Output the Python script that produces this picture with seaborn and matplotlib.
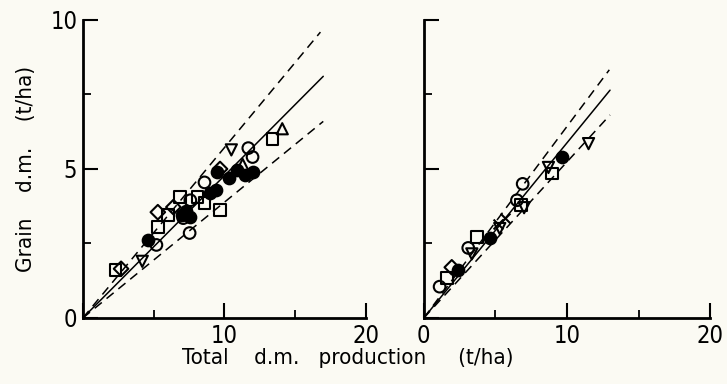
import matplotlib
matplotlib.use("Agg")
import matplotlib.pyplot as plt
import seaborn as sns
import pandas as pd
import numpy as np

# ---- data ----
# left panel
left_marker = ["s", "D", "v", "o_f", "o", "D", "s", "s", "D", "s",
               "o_f", "o_f", "o_f", "o", "o", "o", "s", "s", "o",
               "o_f", "o_f", "s", "o_f", "D", "v", "o_f", "o_f", "o_f",
               "o_f", "o", "o", "^", "s", "^"]
left_x = [2.3, 2.7, 4.2, 4.6, 5.2, 5.3, 5.3, 6.0, 6.4, 6.85,
          7.0, 7.3, 7.6, 7.55, 7.1, 7.6, 8.1, 8.6, 8.6,
          9.0, 9.4, 9.7, 9.5, 9.7, 10.5, 10.3, 10.9, 11.5,
          12.0, 11.7, 12.0, 11.3, 13.4, 14.1]
left_y = [1.6, 1.65, 1.9, 2.6, 2.45, 3.55, 3.05, 3.45, 3.72, 4.05,
          3.45, 3.6, 3.4, 2.85, 3.35, 3.95, 4.05, 3.85, 4.55,
          4.2, 4.3, 3.62, 4.9, 5.0, 5.64, 4.7, 4.95, 4.8,
          4.9, 5.7, 5.4, 5.15, 6.0, 6.35]

# right panel
right_marker = ["o", "s", "D", "o_f", "v", "o", "s", "o_f", "x", "x",
                "v", "o", "o", "s", "v", "s", "v", "o_f", "v"]
right_x = [1.1, 1.6, 1.95, 2.4, 3.35, 3.1, 3.7, 4.6, 5.2, 5.7,
           5.3, 6.5, 6.9, 6.8, 7.0, 8.95, 8.7, 9.65, 11.5]
right_y = [1.05, 1.35, 1.7, 1.6, 2.15, 2.35, 2.72, 2.68, 3.15, 3.35,
           3.0, 3.95, 4.5, 3.8, 3.7, 4.85, 5.05, 5.4, 5.85]

# regression line (solid) and bounds (dashed): slope, x end
left_lines_slope = [0.477, 0.571, 0.388]
left_lines_xend = [17.0, 16.8, 17.0]
right_lines_slope = [0.588, 0.643, 0.524]
right_lines_xend = [13.0, 12.95, 13.0]
line_styles = ["-", "--", "--"]

x_ticks_major = [0, 10, 20]
x_ticks_minor = [5, 15]
y_ticks_major = [0, 5, 10]
y_ticks_minor = [2.5, 7.5]

bg = "#fbfaf3"

sns.set_theme(style="ticks")
plt.rcParams["font.family"] = ["DejaVu Sans"]
plt.rcParams["font.stretch"] = "condensed"
plt.rcParams["text.color"] = "black"
plt.rcParams["axes.labelcolor"] = "black"
plt.rcParams["xtick.color"] = "black"
plt.rcParams["ytick.color"] = "black"

fig = plt.figure(figsize=(7.27, 3.84), dpi=100, facecolor=bg)
axL = fig.add_axes([0.114, 0.172, 0.389, 0.776])
axR = fig.add_axes([0.583, 0.172, 0.394, 0.776])

marker_map = {"o": ("o", False), "o_f": ("o", True), "s": ("s", False),
              "D": ("D", False), "v": ("v", False), "^": ("^", False),
              "x": ("x", True)}
size_map = {"o": 70, "s": 70, "D": 55, "v": 65, "^": 65, "x": 50}


def draw(ax, xs, ys, ms, slopes, xends, show_ylabels, show_x0):
    ax.set_facecolor(bg)
    df = pd.DataFrame({"x": xs, "y": ys, "m": ms})
    for key, grp in df.groupby("m"):
        mk, filled = marker_map[key]
        if mk == "x":
            sns.scatterplot(data=grp, x="x", y="y", marker="x", color="black",
                            s=size_map[mk], linewidth=1.5, ax=ax, zorder=3)
        else:
            sns.scatterplot(data=grp, x="x", y="y", marker=mk,
                            facecolor="black" if filled else "none",
                            edgecolor="black", s=size_map[mk], linewidth=1.5,
                            ax=ax, zorder=3)
    for sl, xe, ls in zip(slopes, xends, line_styles):
        lx = np.array([0.0, xe])
        line = sns.lineplot(x=lx, y=sl * lx, color="black",
                            linewidth=1.1, ax=ax, zorder=2)
        if ls == "--":
            ax.lines[-1].set_dashes((6, 4))
    ax.set_xlim(0, 20)
    ax.set_ylim(0, 10)
    ax.set_xticks(x_ticks_major)
    ax.set_xticks(x_ticks_minor, minor=True)
    ax.set_yticks(y_ticks_major)
    ax.set_yticks(y_ticks_minor, minor=True)
    ax.tick_params(axis="both", which="major", direction="in", length=11,
                   width=1.5, labelsize=17, pad=4)
    ax.tick_params(axis="both", which="minor", direction="in", length=6,
                   width=1.3)
    if show_ylabels:
        ax.set_yticklabels(["0", "5", "10"])
    else:
        ax.set_yticklabels([])
    if show_x0:
        ax.set_xticklabels(["0", "10", "20"])
    else:
        ax.set_xticklabels(["", "10", "20"])
    for s in ["top", "right"]:
        ax.spines[s].set_visible(False)
    for s in ["left", "bottom"]:
        ax.spines[s].set_linewidth(2.0)
        ax.spines[s].set_color("black")
    ax.set_xlabel("")
    ax.set_ylabel("")


draw(axL, left_x, left_y, left_marker, left_lines_slope, left_lines_xend, True, False)
draw(axR, right_x, right_y, right_marker, right_lines_slope, right_lines_xend, False, True)

axL.set_ylabel("Grain    d.m.    (t/ha)", fontsize=16, labelpad=10)
fig.text(0.478, 0.068, "Total    d.m.   production     (t/ha)", ha="center",
         va="center", fontsize=16)

fig.savefig("out.png", dpi=100, facecolor=bg)
